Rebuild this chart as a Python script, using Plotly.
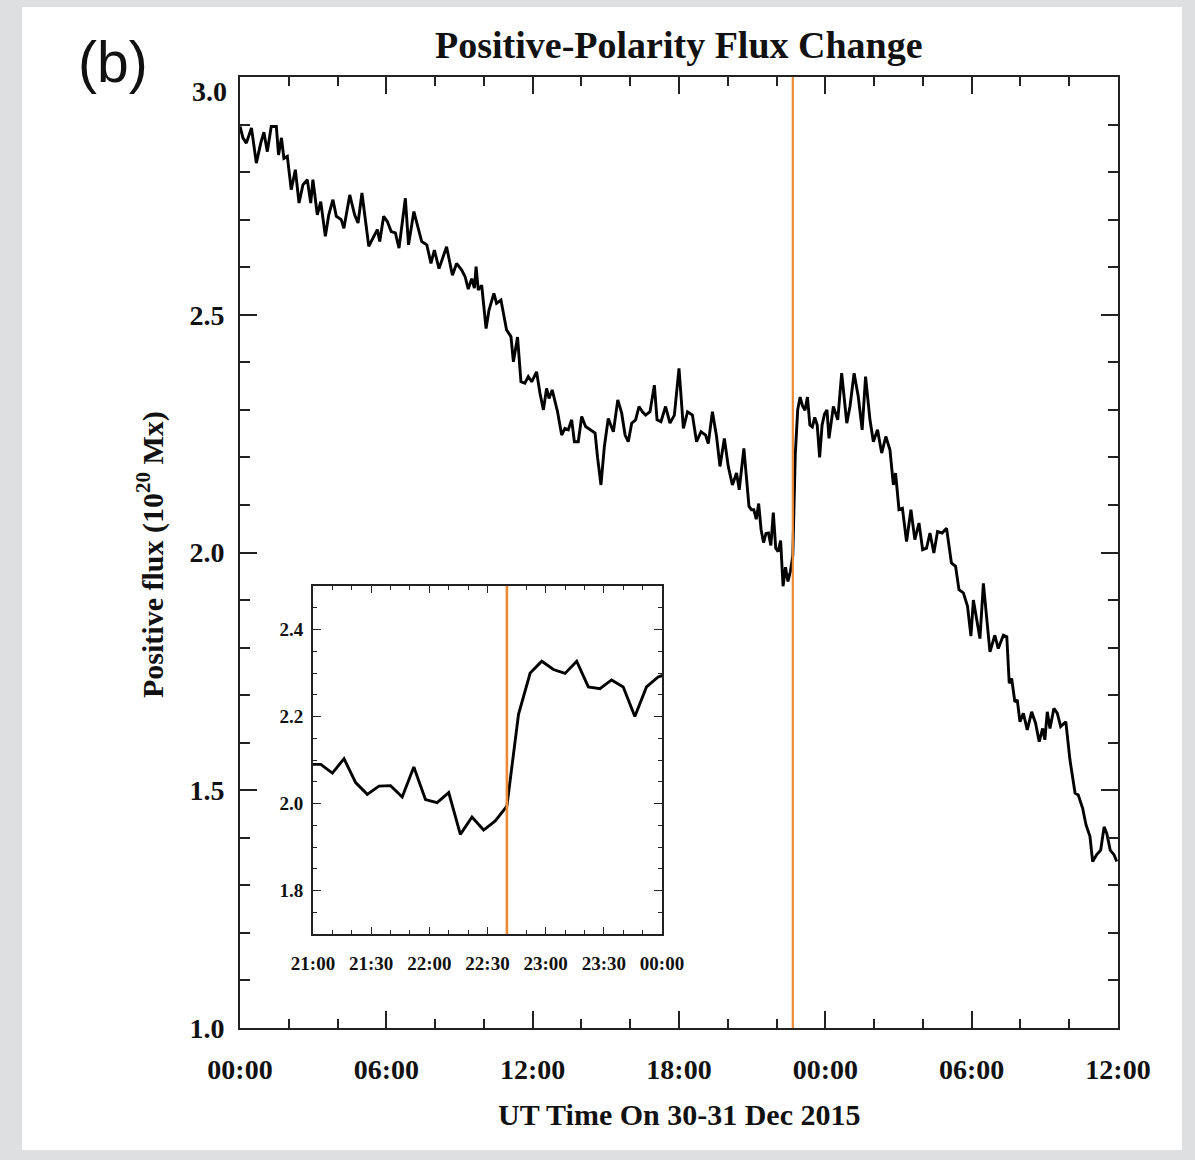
import plotly.graph_objects as go
import pandas as pd

BASE = pd.Timestamp("2015-12-30 00:00")

# ---- main series, before 21 UT (hours since 30 Dec 00:00 UT, flux in 1e20 Mx)
hours_a = [0.00, 0.12, 0.26, 0.47, 0.67, 0.85, 0.98, 1.12, 1.28, 1.49, 1.58, 1.70, 1.80, 1.94,
           2.10, 2.27, 2.42, 2.58, 2.76, 2.90, 2.99, 3.17, 3.31, 3.50, 3.64, 3.81, 3.95, 4.15,
           4.26, 4.50, 4.70, 4.84, 5.00, 5.28, 5.45, 5.63, 5.73, 5.89, 6.04, 6.20, 6.37, 6.52,
           6.78, 6.91, 7.13, 7.30, 7.45, 7.66, 7.83, 7.97, 8.16, 8.47, 8.71, 8.88, 9.09, 9.23,
           9.36, 9.50, 9.61, 9.68, 9.77, 9.91, 10.09, 10.21, 10.41, 10.52, 10.70, 10.93, 11.11,
           11.21, 11.38, 11.52, 11.68, 11.82, 11.96, 12.16, 12.30, 12.44, 12.57, 12.67, 12.80,
           13.02, 13.19, 13.32, 13.46, 13.60, 13.71, 13.87, 14.01, 14.17, 14.35, 14.56, 14.66,
           14.80, 14.94, 15.10, 15.31, 15.49, 15.65, 15.79, 15.92, 16.06, 16.22, 16.36, 16.50,
           16.63, 16.81, 16.99, 17.10, 17.26, 17.45, 17.63, 17.81, 18.00, 18.18, 18.35, 18.55,
           18.72, 18.90, 19.09, 19.20, 19.37, 19.54, 19.68, 19.86, 20.02, 20.19, 20.36, 20.47,
           20.66, 20.87]
flux_a = [2.896, 2.872, 2.861, 2.893, 2.819, 2.861, 2.884, 2.843, 2.896, 2.896, 2.836, 2.872, 2.829, 2.833,
          2.763, 2.805, 2.735, 2.773, 2.784, 2.735, 2.784, 2.710, 2.738, 2.665, 2.710, 2.742, 2.707, 2.700,
          2.682, 2.752, 2.710, 2.693, 2.756, 2.644, 2.661, 2.679, 2.654, 2.707, 2.696, 2.675, 2.672, 2.640,
          2.745, 2.647, 2.717, 2.682, 2.654, 2.647, 2.608, 2.636, 2.597, 2.643, 2.583, 2.608, 2.594, 2.580,
          2.554, 2.576, 2.556, 2.601, 2.552, 2.562, 2.471, 2.510, 2.545, 2.524, 2.531, 2.468, 2.454,
          2.401, 2.453, 2.359, 2.356, 2.370, 2.359, 2.380, 2.335, 2.300, 2.345, 2.324, 2.342,
          2.296, 2.247, 2.261, 2.258, 2.279, 2.233, 2.233, 2.286, 2.265, 2.258, 2.251, 2.200,
          2.142, 2.223, 2.282, 2.254, 2.321, 2.293, 2.247, 2.233, 2.272, 2.279, 2.307, 2.296,
          2.289, 2.296, 2.352, 2.279, 2.275, 2.307, 2.272, 2.289, 2.387, 2.261, 2.296, 2.289,
          2.233, 2.254, 2.247, 2.229, 2.296, 2.244, 2.181, 2.240, 2.181, 2.142, 2.167, 2.132,
          2.219, 2.097]

# ---- 6-minute samples around the flare (also shown in the inset)
inset_times = ["2015-12-30 20:58", "2015-12-30 21:04", "2015-12-30 21:10", "2015-12-30 21:16",
               "2015-12-30 21:22", "2015-12-30 21:28", "2015-12-30 21:34", "2015-12-30 21:40",
               "2015-12-30 21:46", "2015-12-30 21:52", "2015-12-30 21:58", "2015-12-30 22:04",
               "2015-12-30 22:10", "2015-12-30 22:16", "2015-12-30 22:22", "2015-12-30 22:28",
               "2015-12-30 22:34", "2015-12-30 22:40", "2015-12-30 22:46", "2015-12-30 22:52",
               "2015-12-30 22:58", "2015-12-30 23:04", "2015-12-30 23:10", "2015-12-30 23:16",
               "2015-12-30 23:22", "2015-12-30 23:28", "2015-12-30 23:34", "2015-12-30 23:40",
               "2015-12-30 23:46", "2015-12-30 23:52", "2015-12-30 23:58", "2015-12-31 00:04"]
inset_flux = [2.090, 2.090, 2.070, 2.103, 2.048, 2.021, 2.040, 2.041,
              2.015, 2.084, 2.009, 2.002, 2.025, 1.929, 1.969, 1.939,
              1.960, 1.994, 2.205, 2.300, 2.327, 2.308, 2.299, 2.327,
              2.268, 2.264, 2.284, 2.268, 2.200, 2.268, 2.291, 2.300]

# ---- main series, after 00 UT on 31 Dec
hours_c = [24.15, 24.33, 24.51, 24.67, 24.88, 25.01, 25.18, 25.35, 25.51, 25.65, 25.83, 25.97,
           26.14, 26.31, 26.48, 26.65, 26.79, 26.88, 27.02, 27.16, 27.33, 27.51, 27.67, 27.84,
           27.99, 28.15, 28.29, 28.45, 28.60, 28.79, 28.97, 29.17, 29.34, 29.48, 29.66, 29.83,
           29.97, 30.07, 30.34, 30.48, 30.61, 30.75, 30.95, 31.09, 31.30, 31.44, 31.54, 31.64,
           31.77, 31.87, 31.98, 32.12, 32.28, 32.46, 32.62, 32.77, 32.91, 33.00, 33.10, 33.21,
           33.37, 33.51, 33.65, 33.86, 34.03, 34.24, 34.37, 34.55, 34.69, 34.85, 34.96, 35.12,
           35.29, 35.43, 35.54, 35.68, 35.84, 35.95]
flux_c = [2.240, 2.307, 2.279, 2.377, 2.272, 2.307, 2.377, 2.328, 2.258, 2.370, 2.279, 2.233,
          2.258, 2.209, 2.244, 2.216, 2.142, 2.167, 2.090, 2.093, 2.023, 2.090, 2.027, 2.062,
          2.006, 2.009, 2.041, 1.999, 2.044, 2.041, 2.051, 1.978, 1.971, 1.922, 1.915, 1.887,
          1.824, 1.900, 1.819, 1.935, 1.872, 1.791, 1.826, 1.798, 1.826, 1.823, 1.725, 1.735,
          1.686, 1.690, 1.644, 1.662, 1.627, 1.665, 1.641, 1.602, 1.630, 1.606, 1.665, 1.630,
          1.672, 1.662, 1.634, 1.644, 1.564, 1.494, 1.490, 1.462, 1.427, 1.403, 1.350, 1.364,
          1.374, 1.423, 1.409, 1.374, 1.364, 1.350]

flare_time = "2015-12-30 22:40"
main_range = ["2015-12-30 00:00", "2015-12-31 12:00"]
inset_range = ["2015-12-30 21:00", "2015-12-31 00:00"]
y_tickvals = [1.0, 1.5, 2.0, 2.5]
y_ticktext = ["1.0", "1.5", "2.0", "2.5"]
y_top_label = "3.0"   # top label sits a little below the frame, drawn separately

# build time series
t_a = [BASE + pd.Timedelta(hours=h) for h in hours_a]
t_b = [pd.Timestamp(s) for s in inset_times]
t_c = [BASE + pd.Timedelta(hours=h) for h in hours_c]
main_t = t_a + t_b + t_c
main_f = flux_a + inset_flux + flux_c

W, H = 1195, 1160
L, R, T, B = 240, 1195 - 1118, 77, 1160 - 1028
PW, PH = W - L - R, H - T - B


def px(xp):
    return (xp - L) / PW


def py(yp):
    return (H - B - yp) / PH


SERIF = "Liberation Serif"
AX = "#222222"
ORANGE = "#EE8A35"

fig = go.Figure()
fig.add_trace(go.Scatter(x=main_t, y=main_f, mode="lines",
                         line=dict(color="black", width=2.9), showlegend=False,
                         xaxis="x", yaxis="y"))
fig.add_trace(go.Scatter(x=t_b, y=inset_flux, mode="lines",
                         line=dict(color="black", width=2.9), showlegend=False,
                         xaxis="x2", yaxis="y2"))

tickfont_main = dict(family=SERIF, size=28, color="#111", weight="bold")
tickfont_inset = dict(family=SERIF, size=19, color="#111", weight="bold")

fig.update_layout(
    width=W, height=H,
    margin=dict(l=L, r=R, t=T, b=B),
    paper_bgcolor="#dedfe0",
    plot_bgcolor="rgba(0,0,0,0)",
    showlegend=False,
    xaxis=dict(type="date", range=main_range, dtick=6 * 3600 * 1000, tickformat="%H:%M",
               ticks="inside", ticklen=17, tickwidth=1.6, tickcolor=AX,
               showline=True, linecolor=AX, linewidth=2, mirror="ticks",
               showgrid=False, zeroline=False, tickfont=tickfont_main,
               ticklabelstandoff=15,
               minor=dict(dtick=2 * 3600 * 1000, ticks="inside", ticklen=9,
                          tickwidth=1.6, tickcolor=AX, showgrid=False)),
    yaxis=dict(range=[1.0, 3.0], tickmode="array", tickvals=y_tickvals, ticktext=y_ticktext,
               ticks="inside", ticklen=17, tickwidth=1.6, tickcolor=AX,
               showline=True, linecolor=AX, linewidth=2, mirror="ticks",
               showgrid=False, zeroline=False, tickfont=tickfont_main,
               ticklabelstandoff=8,
               minor=dict(dtick=0.1, ticks="inside", ticklen=10,
                          tickwidth=1.6, tickcolor=AX, showgrid=False)),
    xaxis2=dict(type="date", range=inset_range, domain=[px(313), px(662)], anchor="y2",
                dtick=30 * 60 * 1000, tickformat="%H:%M",
                ticks="inside", ticklen=7, tickwidth=1.4, tickcolor=AX,
                showline=True, linecolor=AX, linewidth=1.8, mirror="ticks",
                showgrid=False, zeroline=False, tickfont=tickfont_inset,
                ticklabelstandoff=11,
                minor=dict(dtick=10 * 60 * 1000, ticks="inside", ticklen=4,
                           tickwidth=1.4, tickcolor=AX, showgrid=False)),
    yaxis2=dict(range=[1.7, 2.5], domain=[py(934), py(586)], anchor="x2",
                dtick=0.2, tick0=1.8, tickformat=".1f",
                ticks="inside", ticklen=8, tickwidth=1.4, tickcolor=AX,
                showline=True, linecolor=AX, linewidth=1.8, mirror="ticks",
                showgrid=False, zeroline=False, tickfont=tickfont_inset,
                ticklabelstandoff=4,
                minor=dict(dtick=0.05, ticks="inside", ticklen=4,
                           tickwidth=1.4, tickcolor=AX, showgrid=False)),
)

# white panel behind the figure
fig.add_shape(type="rect", xref="paper", yref="paper",
              x0=px(22), x1=px(1182), y0=py(1150), y1=py(7),
              fillcolor="white", line=dict(width=0), layer="below")

# flare-time markers
fig.add_shape(type="line", xref="x", yref="y domain", x0=flare_time, x1=flare_time,
              y0=0, y1=1, line=dict(color=ORANGE, width=2.2), layer="above")
fig.add_shape(type="line", xref="x2", yref="y2 domain", x0=flare_time, x1=flare_time,
              y0=0, y1=1, line=dict(color=ORANGE, width=2.6), layer="above")

# texts
fig.add_annotation(text=y_top_label, xref="paper", yref="paper",
                   x=px(229), y=py(91), xanchor="right", yanchor="middle", showarrow=False,
                   font=tickfont_main)
fig.add_annotation(text="Positive-Polarity Flux Change", xref="paper", yref="paper",
                   x=0.5, y=py(45), xanchor="center", yanchor="middle", showarrow=False,
                   font=dict(family=SERIF, size=38, color="#111", weight="bold"))
fig.add_annotation(text="UT Time On 30-31 Dec 2015", xref="paper", yref="paper",
                   x=0.5, y=py(1114), xanchor="center", yanchor="middle", showarrow=False,
                   font=dict(family=SERIF, size=30, color="#111", weight="bold"))
fig.add_annotation(text="Positive flux (10<sup>20</sup> Mx)", xref="paper", yref="paper",
                   x=px(150), y=py(555), xanchor="center", yanchor="middle", showarrow=False,
                   textangle=-90,
                   font=dict(family=SERIF, size=30, color="#111", weight="bold"))
fig.add_annotation(text="(b)", xref="paper", yref="paper",
                   x=px(113), y=py(62), xanchor="center", yanchor="middle", showarrow=False,
                   font=dict(family="Liberation Sans", size=57, color="#111"))

fig.write_html("out.html")
